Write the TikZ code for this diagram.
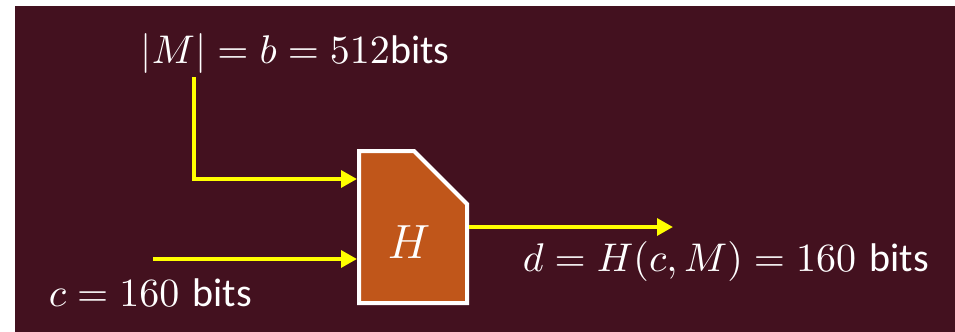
\documentclass[tikz,border=0pt]{standalone}
\usepackage{fontspec}
\newfontfamily\calibrifont{Carlito}
\usetikzlibrary{arrows.meta}
\definecolor{bgmaroon}{HTML}{43111F}
\definecolor{horange}{HTML}{C0561A}
\definecolor{ylw}{HTML}{FFFF00}
\begin{document}
\begin{tikzpicture}[x=0.25pt,y=-0.25pt,
  conn/.style={draw=ylw,line width=0.95pt,-{Triangle[length=4pt,width=4.2pt]}},
  lbl/.style={text=white,inner sep=0pt,anchor=base west,font=\fontsize{10}{12}\selectfont}]
\useasboundingbox (0,0) rectangle (955,332);
\fill[white] (0,0) rectangle (955,332);
\fill[bgmaroon] (15,6) rectangle (955,332);
% hash block
\draw[fill=horange,draw=white,line width=1pt]
  (359,151) -- (414,151) -- (467,204) -- (467,303) -- (359,303) -- cycle;
\node[text=white,inner sep=0pt,font=\fontsize{11.5}{13}\selectfont] (H) at (409,242) {$H$};
\coordinate (inM) at (357,179);
\coordinate (inC) at (357,259);
\coordinate (outD) at (469,227);
% labels
\node[lbl] (lM) at (140,64) {$|M|=b=512$\calibrifont bits};
\node[lbl] (lc) at (48,306) {$c=160$ \calibrifont bits};
\node[lbl] (ld) at (522,271) {$d=H(c,M)=160$ \calibrifont bits};
% connectors
\coordinate (mstart) at (194,77);
\coordinate (cstart) at (153,259);
\coordinate (dend) at (673,227);
\draw[conn] (mstart) |- (inM);
\draw[conn] (cstart) -- (inC);
\draw[conn] (outD) -- (dend);
\end{tikzpicture}
\end{document}
